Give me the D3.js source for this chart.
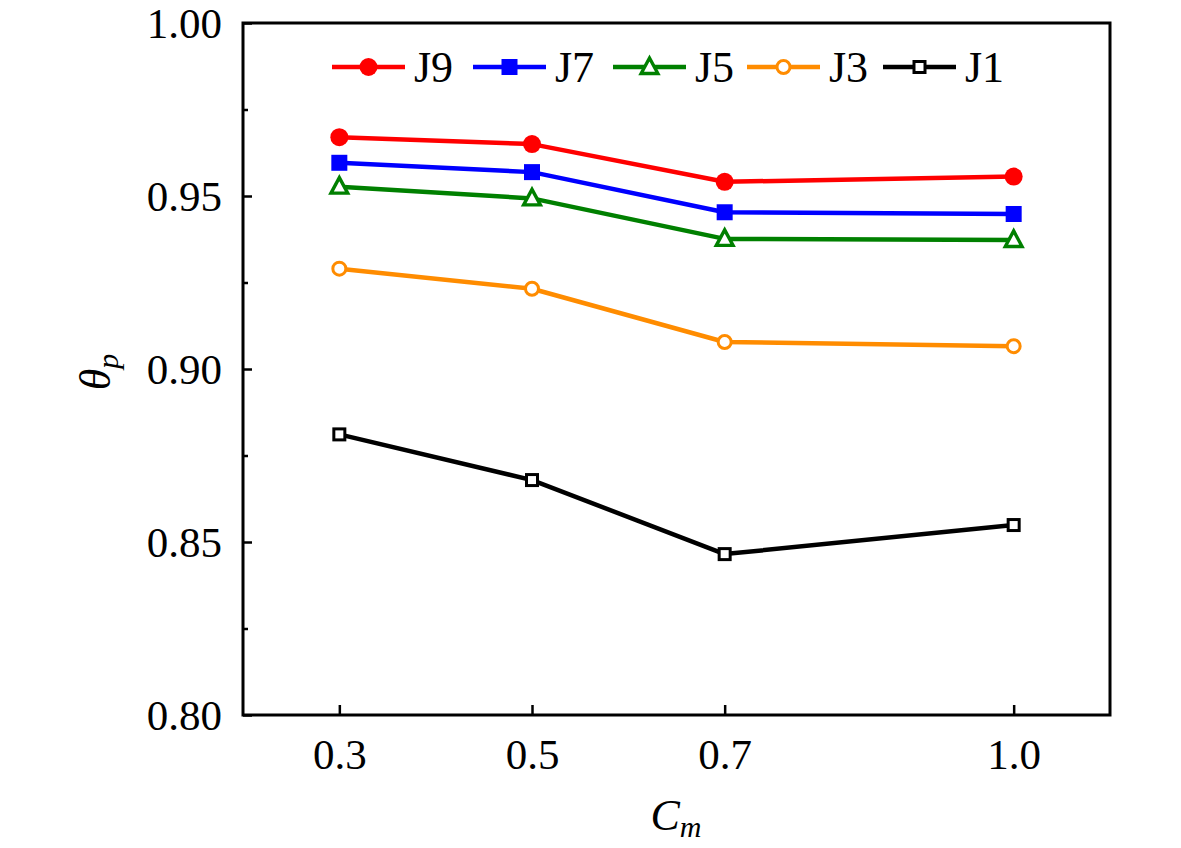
<!DOCTYPE html>
<html><head><meta charset="utf-8">
<script src="https://cdn.jsdelivr.net/npm/d3@7/dist/d3.min.js"></script>
<style>body{margin:0;background:#fff}svg{display:block}
text{font-family:"Liberation Serif","Times New Roman",serif;}</style>
</head><body>
<svg id="c" width="1181" height="848"></svg>
<script>
const cmValues = [0.3, 0.5, 0.7, 1.0];
const xTickLabels = ["0.3", "0.5", "0.7", "1.0"];
const yTicks = [0.80, 0.85, 0.90, 0.95, 1.00];
const yMinorTicks = [0.825, 0.875, 0.925, 0.975];
const seriesNames = ["J9", "J7", "J5", "J3", "J1"];
const J9 = [0.967, 0.965, 0.9541, 0.9556];
const J7 = [0.9596, 0.9569, 0.9453, 0.9448];
const J5 = [0.9527, 0.9493, 0.9376, 0.9373];
const J3 = [0.9290, 0.9232, 0.9078, 0.9066];
const J1 = [0.8811, 0.8679, 0.8465, 0.8549];

const seriesData = [J9, J7, J5, J3, J1];
const styles = [
  {color:"#ff0000", shape:"circle", fill:true, size:9},
  {color:"#0000ff", shape:"square", fill:true, size:8},
  {color:"#008000", shape:"triangle", fill:false, size:9.5},
  {color:"#ff8c00", shape:"circle", fill:false, size:8},
  {color:"#000000", shape:"square", fill:false, size:7}
];

const svg = d3.select("#c");
const L = 243, R = 1110, T = 23, B = 715;
const x = d3.scaleLinear().domain([0.2, 1.1]).range([L, R]);
const y = d3.scaleLinear().domain([0.80, 1.00]).range([B, T]);

function drawMarker(g, st, cx, cy) {
  const fill = st.fill ? st.color : "#fff";
  const sw = st.fill ? 0 : 3;
  if (st.shape === "circle") {
    g.append("circle").attr("cx", cx).attr("cy", cy).attr("r", st.fill ? st.size : st.size - 1.5)
      .attr("fill", fill).attr("stroke", st.color).attr("stroke-width", sw);
  } else if (st.shape === "square") {
    const s = st.fill ? st.size : st.size - 1.5;
    g.append("rect").attr("x", cx - s).attr("y", cy - s).attr("width", 2*s).attr("height", 2*s)
      .attr("fill", fill).attr("stroke", st.color).attr("stroke-width", sw);
  } else {
    const s = st.size;
    const h = s * 0.95;
    const pts = [[cx, cy - h], [cx + s*0.88, cy + h*0.72], [cx - s*0.88, cy + h*0.72]];
    g.append("polygon").attr("points", pts.map(p => p.join(",")).join(" "))
      .attr("fill", fill).attr("stroke", st.color).attr("stroke-width", 3.4).attr("stroke-linejoin", "miter");
  }
}

// lines
const line = d3.line().x((d, i) => x(cmValues[i])).y(d => y(d));
seriesData.forEach((vals, k) => {
  const st = styles[k];
  svg.append("path").datum(vals).attr("d", line).attr("fill", "none")
    .attr("stroke", st.color).attr("stroke-width", 4.5).attr("stroke-linejoin", "round");
});
seriesData.forEach((vals, k) => {
  const g = svg.append("g");
  vals.forEach((v, i) => drawMarker(g, styles[k], x(cmValues[i]), y(v)));
});

// axes
const yAxis = d3.axisLeft(y).tickValues(yTicks).tickSize(-9).tickPadding(21)
  .tickFormat(d3.format(".2f"));
const gy = svg.append("g").attr("transform", `translate(${L},0)`).call(yAxis);
const gym = svg.append("g").attr("transform", `translate(${L},0)`)
  .call(d3.axisLeft(y).tickValues(yMinorTicks).tickSize(-5).tickFormat(""));
const xAxis = d3.axisBottom(x).tickValues(cmValues).tickSize(-10).tickPadding(54)
  .tickFormat((d, i) => xTickLabels[i]);
const gx = svg.append("g").attr("transform", `translate(0,${B})`).call(xAxis);
[gy, gym, gx].forEach(g => {
  g.attr("font-family", null);
  g.select(".domain").remove();
  g.selectAll(".tick line").attr("stroke", "#000").attr("stroke-width", 2.5);
  g.selectAll(".tick text").attr("font-size", 43).attr("fill", "#000");
});
gx.selectAll(".tick text").attr("dy", "0");
gy.selectAll(".tick text").attr("dy", "0.34em");

// frame
svg.append("rect").attr("x", L).attr("y", T).attr("width", R - L).attr("height", B - T)
  .attr("fill", "none").attr("stroke", "#000").attr("stroke-width", 3);

// axis titles
const xt = svg.append("text").attr("x", 676).attr("y", 830)
  .attr("font-size", 44).attr("font-style", "italic").attr("text-anchor", "middle");
xt.append("tspan").text("C");
xt.append("tspan").attr("font-size", 30).attr("dy", 7).text("m");
const yt = svg.append("text").attr("transform", "translate(110,372) rotate(-90)")
  .attr("font-size", 44).attr("font-style", "italic").attr("text-anchor", "middle");
yt.append("tspan").text("θ");
yt.append("tspan").attr("font-size", 30).attr("dy", 8).text("p");

// legend
const legX = [332, 473, 613, 747, 883];
seriesNames.forEach((name, k) => {
  const st = styles[k];
  const g = svg.append("g");
  const x0 = legX[k], ly = 67;
  g.append("line").attr("x1", x0).attr("x2", x0 + 73).attr("y1", ly).attr("y2", ly)
    .attr("stroke", st.color).attr("stroke-width", 4.5);
  drawMarker(g, st, x0 + 36.5, ly);
  g.append("text").attr("x", x0 + 82).attr("y", ly + 15)
    .attr("font-size", 44).attr("fill", "#000").text(name);
});
</script>
</body></html>
